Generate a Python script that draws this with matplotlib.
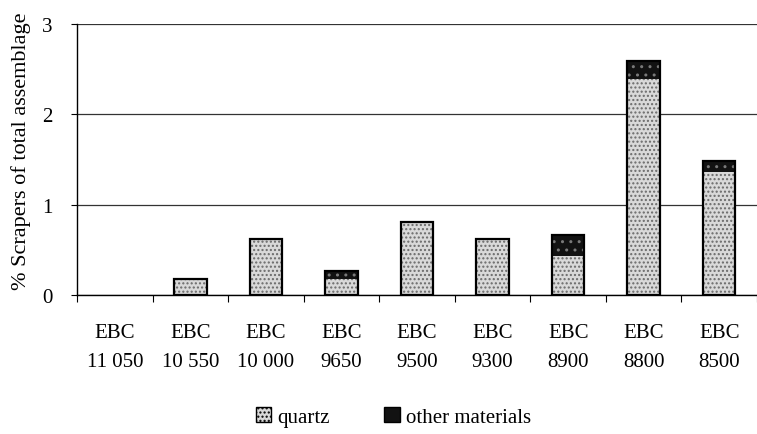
import matplotlib

matplotlib.use("Agg")
import matplotlib.pyplot as plt
from matplotlib.patches import Patch
import numpy as np

plt.rcParams["font.family"] = ["Liberation Serif", "DejaVu Serif"]

# Scraper percentages per level
levels = ["EBC\n11 050", "EBC\n10 550", "EBC\n10 000", "EBC\n9650", "EBC\n9500",
          "EBC\n9300", "EBC\n8900", "EBC\n8800", "EBC\n8500"]
quartz = [0.0, 0.18, 0.62, 0.18, 0.81, 0.62, 0.43, 2.39, 1.36]
other = [0.0, 0.0, 0.0, 0.09, 0.0, 0.0, 0.23, 0.20, 0.12]

x = np.arange(len(levels))
width = 0.43

fig = plt.figure(figsize=(7.57, 4.35), dpi=100)
ax = fig.add_axes([0.102, 0.3195, 0.898, 0.623])

# stippled fills first (hatch colour comes from edgecolor), outlines on top
ax.bar(x, quartz, width, color="#d9d9d9", edgecolor="#6a6a6a", hatch="....", linewidth=0, zorder=2)
ax.bar(x, other, width, bottom=quartz, color="#121212", edgecolor="#7a7a7a", hatch="..",
       linewidth=0, zorder=2)
totals = np.array(quartz) + np.array(other)
ax.bar(x[totals > 0], totals[totals > 0], width, fill=False, edgecolor="black",
       linewidth=1.6, zorder=3)

ax.set_xlim(-0.5, len(levels) - 0.5)
ax.set_ylim(0, 3)
ax.set_yticks([0, 1, 2, 3])
ax.yaxis.grid(True, color="#333333", linewidth=0.9)
ax.set_axisbelow(True)
for side in ["top", "right"]:
    ax.spines[side].set_visible(False)
ax.spines["left"].set_linewidth(1.0)
ax.spines["bottom"].set_linewidth(1.0)
ax.tick_params(axis="y", length=4, labelsize=15, pad=14)

# category labels at centres, tick marks at boundaries
ax.set_xticks(x)
ax.set_xticklabels(levels, fontsize=15, linespacing=1.75)
ax.tick_params(axis="x", which="major", length=0, pad=20)
ax.set_xticks(np.arange(len(levels) + 1) - 0.5, minor=True)
ax.tick_params(axis="x", which="minor", length=5, width=0.8)

ax.set_ylabel("% Scrapers of total assemblage", fontsize=16)
ax.yaxis.set_label_coords(-0.068, 0.535)

handles = [Patch(facecolor="#d9d9d9", edgecolor="black", hatch="...."),
           Patch(facecolor="#121212", edgecolor="black")]
fig.legend(handles, ["quartz", "other materials"], loc="center", bbox_to_anchor=(0.52, 0.04),
           ncol=2, frameon=False, fontsize=15, handlelength=0.75, handleheight=0.75,
           handletextpad=0.3, columnspacing=2.6)

fig.savefig("out.png", dpi=100)
